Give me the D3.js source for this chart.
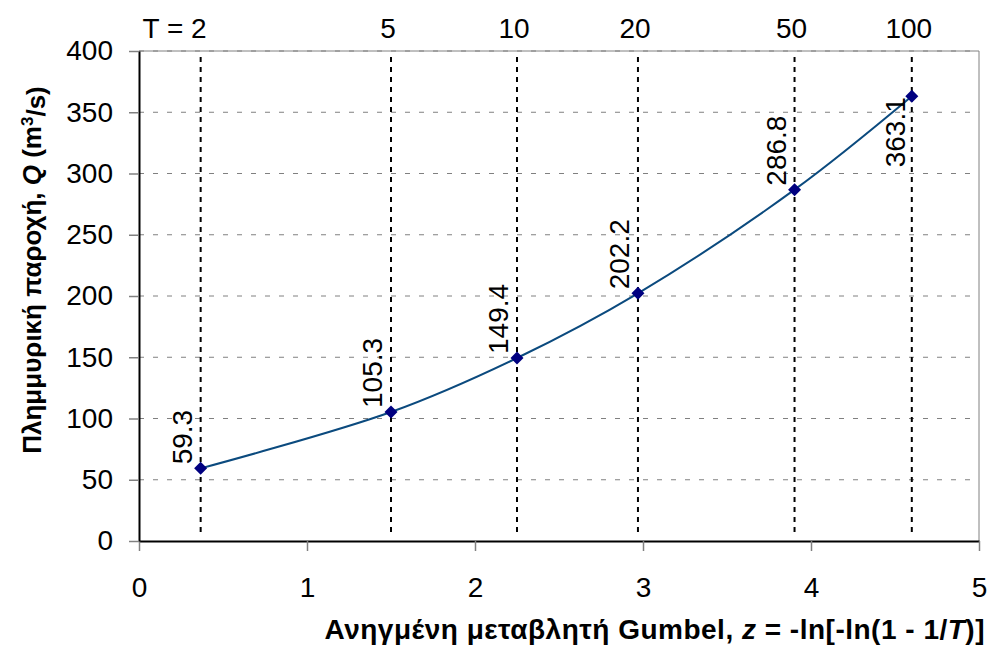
<!DOCTYPE html>
<html>
<head>
<meta charset="utf-8">
<script src="https://cdn.jsdelivr.net/npm/d3@7"></script>
<style>
  body { margin: 0; background: #fff; }
  svg text { font-family: "Liberation Sans", Arial, sans-serif; fill: #000; }
</style>
</head>
<body>
<div id="chart"></div>
<script>
// Data
const returnPeriods = [2, 5, 10, 20, 50, 100];
const zValues = [0.367, 1.500, 2.250, 2.970, 3.902, 4.600];
const discharge = [59.3, 105.3, 149.4, 202.2, 286.8, 363.1];
const xTicks = [0, 1, 2, 3, 4, 5];
const yTicks = [0, 50, 100, 150, 200, 250, 300, 350, 400];

const width = 988, height = 647;
const margin = {top: 51, right: 9, bottom: 106, left: 139};

const points = zValues.map((z, i) => ({z: z, q: discharge[i], T: returnPeriods[i]}));

const svg = d3.select("#chart").append("svg")
    .attr("width", width)
    .attr("height", height);

const x = d3.scaleLinear().domain([0, 5]).range([margin.left, width - margin.right]);
const y = d3.scaleLinear().domain([0, 400]).range([height - margin.bottom, margin.top]);

// horizontal grid
svg.append("g")
    .selectAll("line")
    .data(yTicks.filter(d => d > 0))
    .enter().append("line")
    .attr("x1", x(0)).attr("x2", x(5))
    .attr("y1", d => y(d)).attr("y2", d => y(d))
    .attr("stroke", "#808080")
    .attr("stroke-width", 1)
    .attr("stroke-dasharray", "5,9");

// plot frame top/right
svg.append("path")
    .attr("d", `M${x(0)},${y(400)}H${x(5)}V${y(0)}`)
    .attr("fill", "none")
    .attr("stroke", "#808080")
    .attr("stroke-width", 1);

// vertical dotted lines for return periods
svg.append("g")
    .selectAll("line")
    .data(points)
    .enter().append("line")
    .attr("x1", d => x(d.z)).attr("x2", d => x(d.z))
    .attr("y1", y(400) + 6).attr("y2", y(0) - 6)
    .attr("stroke", "#000")
    .attr("stroke-width", 2)
    .attr("stroke-dasharray", "5,5");

// axes
const xAxis = svg.append("g")
    .attr("transform", `translate(0,${y(0)})`)
    .call(d3.axisBottom(x).tickValues(xTicks).tickFormat(d3.format("d")).tickSize(10).tickPadding(26).tickSizeOuter(0));
xAxis.select(".domain").attr("stroke", "#000").attr("stroke-width", 2);
xAxis.selectAll(".tick line").attr("stroke", "#808080").attr("stroke-width", 1.5);
xAxis.selectAll("text").style("font-size", "28px").style("font-family", "Liberation Sans, Arial, sans-serif").attr("fill", "#000");

const yAxis = svg.append("g")
    .attr("transform", `translate(${x(0)},0)`)
    .call(d3.axisLeft(y).tickValues(yTicks).tickSize(10).tickPadding(16).tickSizeOuter(0));
yAxis.select(".domain").attr("stroke", "#000").attr("stroke-width", 2);
yAxis.selectAll(".tick line").attr("stroke", "#808080").attr("stroke-width", 1.5);
yAxis.selectAll("text").style("font-size", "28px").style("font-family", "Liberation Sans, Arial, sans-serif").attr("fill", "#000");

// top labels for return period
svg.append("g")
    .selectAll("text")
    .data(points)
    .enter().append("text")
    .attr("x", d => x(d.z) + (d.T === 2 ? 6 : -3))
    .attr("y", 38)
    .attr("text-anchor", d => d.T === 2 ? "end" : "middle")
    .style("font-size", "28px")
    .text(d => d.T === 2 ? "T = " + d.T : d.T);

// curve
const line = d3.line()
    .x(d => x(d.z))
    .y(d => y(d.q))
    .curve(d3.curveCatmullRom.alpha(0.5));

svg.append("path")
    .datum(points)
    .attr("fill", "none")
    .attr("stroke", "#0b4a7e")
    .attr("stroke-width", 2)
    .attr("d", line);

// diamond markers
svg.append("g")
    .selectAll("path")
    .data(points)
    .enter().append("path")
    .attr("transform", d => `translate(${x(d.z)},${y(d.q)})`)
    .attr("d", "M0,-6.5L6.5,0L0,6.5L-6.5,0Z")
    .attr("fill", "#000080");

// value labels, rotated
svg.append("g")
    .selectAll("text")
    .data(points)
    .enter().append("text")
    .attr("transform", (d, i) => i === points.length - 1
        ? `translate(${x(d.z) - 7},${y(d.q) + 1}) rotate(-90)`
        : `translate(${x(d.z) - 9},${y(d.q) - 4}) rotate(-90)`)
    .attr("text-anchor", (d, i) => i === points.length - 1 ? "end" : "start")
    .style("font-size", "28px")
    .text(d => d.q.toFixed(1));

// axis titles
const yTitle = svg.append("text")
    .attr("transform", `translate(41,270) rotate(-90)`)
    .attr("text-anchor", "middle")
    .style("font-size", "26px")
    .style("font-weight", "bold");
yTitle.append("tspan").text("Πλημμυρική παροχή, ");
yTitle.append("tspan").style("font-style", "italic").text("Q");
yTitle.append("tspan").text(" (m");
yTitle.append("tspan").attr("dy", "-0.45em").style("font-size", "17px").text("3");
yTitle.append("tspan").attr("dy", "0.45em").text("/s)");

const xTitle = svg.append("text")
    .attr("x", 985)
    .attr("y", 639)
    .attr("text-anchor", "end")
    .style("font-size", "28px")
    .style("letter-spacing", "0.5px")
    .style("font-weight", "bold");
xTitle.append("tspan").text("Ανηγμένη μεταβλητή Gumbel, ");
xTitle.append("tspan").style("font-style", "italic").text("z");
xTitle.append("tspan").text(" = -ln[-ln(1 - 1/");
xTitle.append("tspan").style("font-style", "italic").text("T");
xTitle.append("tspan").text(")]");
</script>
</body>
</html>
